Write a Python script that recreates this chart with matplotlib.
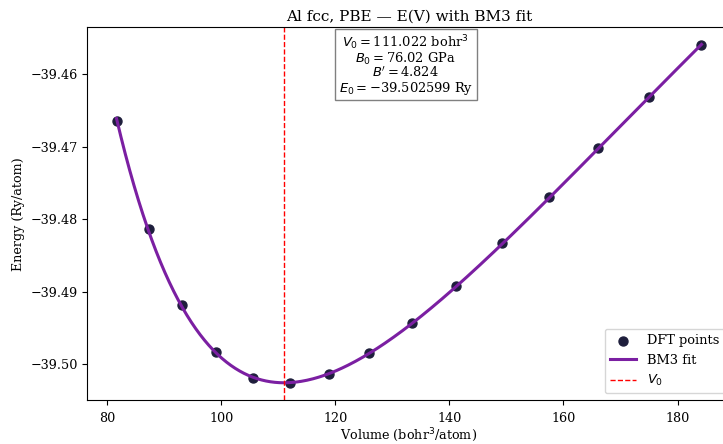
import matplotlib
matplotlib.use("Agg")
import matplotlib.pyplot as plt
import numpy as np

plt.rcParams["font.family"] = ["DejaVu Serif"]

# DFT points (bohr^3/atom, Ry/atom)
volumes = [81.65, 87.3, 93.1, 99.17, 105.5, 112.0, 118.9, 126.0, 133.4,
           141.1, 149.2, 157.4, 166.07, 174.95, 184.2]
energies = [-39.4665, -39.4814, -39.4919, -39.4984, -39.5019, -39.50264,
            -39.5014, -39.4985, -39.4944, -39.4893, -39.4833, -39.4770,
            -39.4702, -39.4632, -39.4560]

# BM3 fit parameters shown on the chart
V0 = 111.022
B0_GPa = 76.02
Bp = 4.824
E0 = -39.502599
RY_BOHR3_TO_GPA = 14710.507848


def bm3(v):
    b0 = B0_GPa / RY_BOHR3_TO_GPA
    eta = (V0 / v) ** (2.0 / 3.0)
    return E0 + 9.0 * V0 * b0 / 16.0 * (
        (eta - 1) ** 3 * Bp + (eta - 1) ** 2 * (6 - 4 * eta))


def main():
    fig = plt.figure(figsize=(7.23, 4.44), dpi=100)
    # right part of the axes runs off the canvas as in the reference
    ax = fig.add_axes([0.1207, 0.0991, 0.890, 0.839])

    vv = np.linspace(min(volumes), max(volumes), 400)

    ax.scatter(volumes, energies, s=42, color="#1e1e3c", label="DFT points")
    ax.plot(vv, bm3(vv), color="#7b1fa2", lw=2.2, label="BM3 fit")
    ax.axvline(V0, color="red", ls="--", lw=1.0, label="$V_0$")

    ax.set_title("Al fcc, PBE — E(V) with BM3 fit", fontsize=11, pad=5)
    ax.set_xlabel("Volume (bohr$^3$/atom)", fontsize=9.2, labelpad=1)
    ax.set_ylabel("Energy (Ry/atom)", fontsize=9.2)
    ax.tick_params(labelsize=9.2)
    ax.tick_params(axis="x", pad=5)
    ax.set_xticks([80, 100, 120, 140, 160, 180])
    ax.set_yticks([-39.50, -39.49, -39.48, -39.47, -39.46])
    ax.set_yticklabels(["\u221239.50", "\u221239.49", "\u221239.48",
                        "\u221239.47", "\u221239.46"])

    txt = (f"$V_0 = ${V0:.3f} bohr$^3$\n"
           f"$B_0 = ${B0_GPa:.2f} GPa\n"
           f"$B' = ${Bp:.3f}\n"
           f"$E_0 = ${E0:.6f} Ry".replace("-", "\u2212"))
    ax.text(0.495, 0.985, txt, transform=ax.transAxes, ha="center", va="top",
            multialignment="center", fontsize=9.4, linespacing=0.92,
            bbox=dict(boxstyle="square,pad=0.3", fc="white", ec="gray"))

    ax.legend(loc="lower right", fontsize=9.4)

    fig.savefig("out.png", dpi=100)


if __name__ == "__main__":
    main()
